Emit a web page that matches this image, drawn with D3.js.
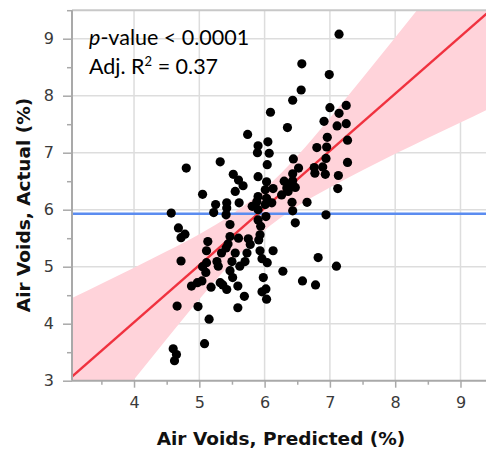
<!DOCTYPE html>
<html>
<head>
<meta charset="utf-8">
<script src="https://cdn.jsdelivr.net/npm/d3@7"></script>
<style>
  html, body { margin: 0; padding: 0; background: #fff; }
  svg { display: block; }
</style>
</head>
<body>
<svg id="chart" width="486" height="456"></svg>
<script>
// ---- data ----
const predicted = [
  7.14, 6.57, 6.99, 6.56, 6.43, 6.35, 7.00, 7.25, 7.14, 6.91, 7.11, 7.25, 6.96, 7.27, 6.80, 6.95,
  6.94, 6.44, 7.27, 6.89, 6.76, 6.52, 6.43, 6.77, 6.93, 7.13, 6.30, 6.43, 6.36, 6.47, 6.34, 6.13,
  6.01, 6.26, 6.36, 7.12, 6.03, 6.11, 6.01, 6.42, 6.65, 5.90, 6.43, 6.94, 6.02, 5.90, 6.47, 5.94,
  5.93, 5.91, 5.93, 6.13, 5.96, 6.04, 6.82, 7.10, 6.28, 5.98, 6.58, 6.78, 6.02, 5.96, 6.03,
  4.80, 5.32, 5.74, 5.90, 6.05, 6.09, 6.07, 5.89, 6.04, 5.52, 5.60, 5.67, 5.90, 6.03, 5.55, 5.05,
  5.90, 5.88, 5.61, 5.42, 5.42, 5.25, 5.22, 5.41, 5.81, 4.57, 5.47, 4.68, 4.78, 4.72, 5.47, 5.60,
  5.75, 5.13, 5.44, 5.78, 5.41, 5.11, 5.34, 5.55, 5.73, 4.72, 5.11, 5.27, 5.50, 5.70, 5.05, 5.10,
  5.29, 5.47, 5.51, 5.62, 4.88, 4.97, 5.04, 5.18, 5.32, 5.36, 5.42, 5.59, 5.69, 4.66, 4.98, 5.59,
  5.15, 5.08, 4.60, 4.65, 4.62
];
const actual = [
  9.08, 8.56, 8.37, 8.10, 7.92, 7.44, 7.79, 7.83, 7.69, 7.55, 7.47, 7.51, 7.27, 7.22, 7.09, 7.10,
  6.90, 6.89, 6.83, 6.75, 6.74, 6.73, 6.63, 6.64, 6.62, 6.60, 6.50, 6.51, 6.45, 6.39, 6.38, 6.37,
  6.35, 6.26, 6.32, 6.37, 6.20, 6.12, 6.09, 6.13, 6.13, 6.00, 5.98, 5.91, 5.88, 5.82, 5.77, 5.71,
  5.56, 5.47, 5.28, 5.28, 5.14, 5.07, 5.16, 5.01, 4.92, 4.81, 4.75, 4.68, 4.61, 4.56, 4.43,
  6.73, 6.84, 7.32, 7.12, 7.19, 7.71, 6.99, 7.00, 6.79, 6.62, 6.52, 6.42, 6.58, 6.49, 6.32, 6.27,
  6.23, 6.14, 6.12, 6.12, 6.03, 6.09, 5.95, 5.91, 6.06, 5.94, 5.74, 5.68, 5.57, 5.51, 5.53, 5.50,
  5.49, 5.44, 5.40, 5.39, 5.33, 5.28, 5.24, 5.24, 5.24, 5.10, 5.07, 5.09, 5.09, 5.09, 5.00, 4.90,
  5.01, 4.93, 4.81, 5.01, 4.66, 4.72, 4.75, 4.64, 4.72, 4.68, 4.60, 4.66, 4.48, 4.31, 4.30, 4.28,
  4.08, 3.65, 3.56, 3.46, 3.35
];
const fitX = [3.05, 9.4];
const fitY = [3.07, 9.44];
const meanActual = 5.93;
const bandX     = [3.05, 3.5, 4.0, 4.5, 5.0, 5.5, 5.95, 6.5, 7.0, 7.5, 8.0, 8.5, 9.0, 9.4];
const bandLower = [1.65, 2.30, 3.02, 3.73, 4.43, 5.08, 5.59, 6.06, 6.39, 6.69, 6.98, 7.26, 7.53, 7.75];
const bandUpper = [4.45, 4.70, 4.98, 5.27, 5.57, 5.92, 6.31, 6.94, 7.61, 8.31, 9.02, 9.74, 10.47, 11.05];
const xTicks = [4, 5, 6, 7, 8, 9];
const yTicks = [3, 4, 5, 6, 7, 8, 9];
const xMinor = [3.5, 4.5, 5.5, 6.5, 7.5, 8.5];
const yMinor = [3.5, 4.5, 5.5, 6.5, 7.5, 8.5, 9.5];
const annot1 = ["p", "-value < 0.0001"];
const annot2 = ["Adj. R", "2", " = 0.37"];
const xTitle = "Air Voids, Predicted (%)";
const yTitle = "Air Voids, Actual (%)";

// ---- layout ----
const L = 72, R = 486.6, T = 10.2, B = 380.7;
const svg = d3.select("#chart");
const x = d3.scaleLinear().domain([3.05, 9.4]).range([L, R]);
const y = d3.scaleLinear().domain([3, 9.5]).range([B, T]);

svg.append("defs").append("clipPath").attr("id", "plotclip")
  .append("rect").attr("x", L).attr("y", T).attr("width", R - L).attr("height", B - T);

// gridlines
const grid = svg.append("g");
grid.selectAll(".vg").data(xTicks).join("line")
  .attr("x1", d => x(d)).attr("x2", d => x(d)).attr("y1", T).attr("y2", B)
  .attr("stroke", "#dddddd").attr("stroke-width", 1.5);
grid.selectAll(".hg").data(yTicks.filter(d => d > 3)).join("line")
  .attr("x1", L).attr("x2", R).attr("y1", d => y(d)).attr("y2", d => y(d))
  .attr("stroke", "#dddddd").attr("stroke-width", 1.5);

const plot = svg.append("g").attr("clip-path", "url(#plotclip)");

// confidence band
const bandData = bandX.map((v, i) => ({x: v, lo: bandLower[i], hi: bandUpper[i]}));
plot.append("path").datum(bandData)
  .attr("d", d3.area().x(d => x(d.x)).y0(d => y(d.lo)).y1(d => y(d.hi)).curve(d3.curveMonotoneX))
  .attr("fill", "#ffd3da");

// mean line
plot.append("line")
  .attr("x1", L).attr("x2", R).attr("y1", y(meanActual)).attr("y2", y(meanActual))
  .attr("stroke", "#5b8cf0").attr("stroke-width", 2.6);

// fit line
plot.append("line")
  .attr("x1", x(fitX[0])).attr("y1", y(fitY[0])).attr("x2", x(fitX[1])).attr("y2", y(fitY[1]))
  .attr("stroke", "#f0323f").attr("stroke-width", 2.4);

// points
plot.selectAll("circle").data(predicted.map((p, i) => [p, actual[i]])).join("circle")
  .attr("cx", d => x(d[0])).attr("cy", d => y(d[1])).attr("r", 4.6)
  .attr("fill", "#000");

// axes frame
const axisColor = "#a9a9a9";
svg.append("line").attr("x1", L).attr("x2", R).attr("y1", T).attr("y2", T)
  .attr("stroke", "#c8c8c8").attr("stroke-width", 2);

const xAxis = d3.axisBottom(x).tickValues(xTicks).tickSize(7).tickPadding(9).tickFormat(d3.format("d"));
const gx = svg.append("g").attr("transform", `translate(0,${B})`).call(xAxis);
gx.select(".domain").attr("stroke", axisColor).attr("stroke-width", 2).attr("d", `M${L},0H${R}`);
gx.selectAll(".tick line").attr("stroke", axisColor).attr("stroke-width", 1.5);
const gxm = svg.append("g").attr("transform", `translate(0,${B})`)
  .call(d3.axisBottom(x).tickValues(xMinor).tickSize(4).tickFormat(""));
gxm.select(".domain").remove();
gxm.selectAll(".tick line").attr("stroke", axisColor).attr("stroke-width", 1.5);

const yAxis = d3.axisLeft(y).tickValues(yTicks).tickSize(9).tickPadding(9).tickFormat(d3.format("d"));
const gy = svg.append("g").attr("transform", `translate(${L},0)`).call(yAxis);
gy.select(".domain").attr("stroke", axisColor).attr("stroke-width", 2).attr("d", `M0,${T}V${B}`);
gy.selectAll(".tick line").attr("stroke", axisColor).attr("stroke-width", 1.5);
const gym = svg.append("g").attr("transform", `translate(${L},0)`)
  .call(d3.axisLeft(y).tickValues(yMinor).tickSize(5).tickFormat(""));
gym.select(".domain").remove();
gym.selectAll(".tick line").attr("stroke", axisColor).attr("stroke-width", 1.5);

svg.selectAll(".tick text")
  .attr("font-family", "'DejaVu Sans', sans-serif").attr("font-size", 16)
  .attr("fill", "#3a3a3a");

// axis titles
svg.append("text").attr("x", 281).attr("y", 445).attr("text-anchor", "middle")
  .attr("font-family", "'DejaVu Sans', sans-serif").attr("font-weight", "bold")
  .attr("font-size", 18.5).attr("fill", "#111").text(xTitle);
svg.append("text").attr("transform", "translate(30,205) rotate(-90)").attr("text-anchor", "middle")
  .attr("font-family", "'DejaVu Sans', sans-serif").attr("font-weight", "bold")
  .attr("font-size", 18.5).attr("fill", "#111").text(yTitle);

// annotations
const af = "Lato, 'Open Sans', sans-serif";
const t1 = svg.append("text").attr("x", 89).attr("y", 45).attr("font-family", af)
  .attr("font-size", 21.5).attr("fill", "#000");
t1.append("tspan").attr("font-style", "italic").text(annot1[0]);
t1.append("tspan").text(annot1[1]);
const t2 = svg.append("text").attr("x", 89).attr("y", 74).attr("font-family", af)
  .attr("font-size", 21.5).attr("fill", "#000");
t2.append("tspan").text(annot2[0]);
t2.append("tspan").attr("font-size", 13).attr("dy", -8).text(annot2[1]);
t2.append("tspan").attr("dy", 8).text(annot2[2]);
</script>
</body>
</html>
